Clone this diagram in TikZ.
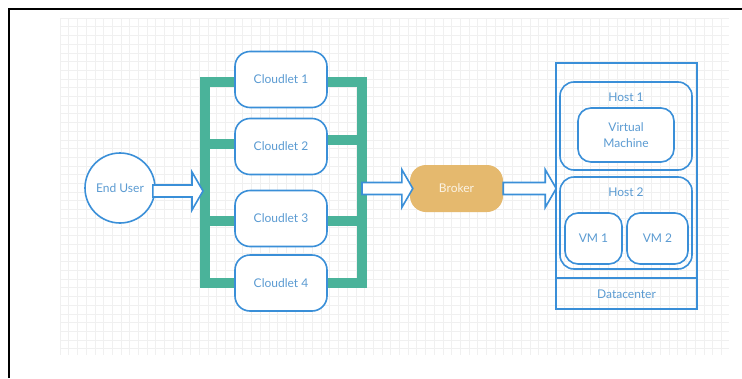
\documentclass[tikz,border=0pt]{standalone}
\usepackage{fontspec}
\setmainfont{Lato}
\usetikzlibrary{calc,backgrounds}

\definecolor{lineblue}{HTML}{3A8FD8}
\definecolor{textblue}{HTML}{5B9BD2}
\definecolor{railgreen}{HTML}{4AB39A}
\definecolor{brokerfill}{HTML}{E5B96E}
\definecolor{brokertext}{HTML}{FBF3E4}
\definecolor{gridgray}{HTML}{F0F0F0}

\tikzset{
  every node/.style={font=\fontsize{12}{14}\selectfont, text=textblue},
  boxline/.style={draw=lineblue, line width=1.6pt},
  cloudlet/.style={boxline, fill=white, rounded corners=15pt,
    minimum width=92pt, minimum height=56pt, inner sep=0pt},
  hostbox/.style={boxline, rounded corners=14pt, inner sep=0pt},
  vmbox/.style={boxline, fill=white, rounded corners=13pt, inner sep=0pt, align=center},
  rail/.style={draw=railgreen, line width=10pt},
  barrow/.style={draw=lineblue, line width=1.6pt, fill=white, line join=miter},
}

% block arrow from the point #1 to the tip #2 (same height as #1)
\newcommand\blockarrow[2]{%
  \draw[barrow] let \p1=(#1), \p2=(#2) in
    (\x1,\y1+6pt) -- (\x2-11pt,\y1+6pt) -- (\x2-11pt,\y1+19pt) -- (\x2,\y1)
    -- (\x2-11pt,\y1-19pt) -- (\x2-11pt,\y1-6pt) -- (\x1,\y1-6pt) -- cycle;}

\begin{document}
\begin{tikzpicture}[x=1pt, y=-1pt]
  \useasboundingbox (0,0) rectangle (742,378);

  % end user
  \node[boxline, circle, minimum size=70pt, inner sep=0pt, fill=white] (eu) at (120,188) {End User};

  % cloudlets
  \node[cloudlet] (c1) at (281,79.5) {Cloudlet 1};
  \node[cloudlet] (c2) at (281,146.5) {Cloudlet 2};
  \node[cloudlet] (c3) at (281,218.5) {Cloudlet 3};
  \node[cloudlet] (c4) at (281,283) {Cloudlet 4};

  % rail corners and branch points
  \coordinate (tl) at (205,82);
  \coordinate (tr) at (362,82);
  \coordinate (bl) at (205,283);
  \coordinate (br) at (362,283);
  \coordinate (l2) at (205,144);
  \coordinate (r2) at (362,140);
  \coordinate (l3) at (205,221);
  \coordinate (r3) at (362,221);
  \coordinate (rin) at (203,191);

  \begin{scope}[on background layer]
    % page and canvas grid
    \fill[white] (0,0) rectangle (742,378);
    \foreach \i in {0,...,76} \draw[gridgray, line width=0.6pt] (60+\i*8.7,18) -- (60+\i*8.7,355);
    \foreach \j in {0,...,38} \draw[gridgray, line width=0.6pt] (60,18+\j*8.7) -- (729,18+\j*8.7);
    % frame
    \draw[black, line width=2.2pt] (9,378) -- (9,9) -- (742,9);
    % rail joining the cloudlets
    \draw[rail, line join=miter] (tl) -- (tr) -- (br) -- (bl) -- cycle;
    \draw[rail] (l2) -- (l2 -| c2.west);
    \draw[rail] (r2 -| c2.east) -- (r2);
    \draw[rail] (l3) -- (r3);
  \end{scope}

  % broker
  \node[fill=brokerfill, rounded corners=16pt, minimum width=93pt, minimum height=47pt,
        inner sep=0pt, text=brokertext] (broker) at (456.5,188.5) {Broker};

  % datacenter
  \node[boxline, minimum width=141pt, minimum height=246pt, inner sep=0pt] (dc) at (626.5,186) {};
  \coordinate (sep) at (626.5,278);
  \draw[boxline] (dc.west |- sep) -- (dc.east |- sep);
  \node (dclbl) at (626.5,294) {Datacenter};

  \node[hostbox, minimum width=132pt, minimum height=88pt] (h1) at (626,126) {};
  \node (h1lbl) at (626,97) {Host 1};
  \node[vmbox, minimum width=96pt, minimum height=54pt] (vm) at (626,135)
       {Virtual\\[2pt]Machine};

  \node[hostbox, minimum width=132pt, minimum height=92pt] (h2) at (626,223) {};
  \node (h2lbl) at (626,192) {Host 2};
  \node[vmbox, minimum width=57pt, minimum height=51pt] (vm1) at (593.5,238.5) {VM 1};
  \node[vmbox, minimum width=61pt, minimum height=51pt] (vm2) at (657.5,238.5) {VM 2};

  % block arrows
  \blockarrow{$(eu.east |- rin)+(-3,0)$}{rin}
  \blockarrow{r2 |- broker}{$(broker.west)+(3,0)$}
  \blockarrow{broker.east}{$(dc.west |- broker)+(1,0)$}
\end{tikzpicture}
\end{document}
